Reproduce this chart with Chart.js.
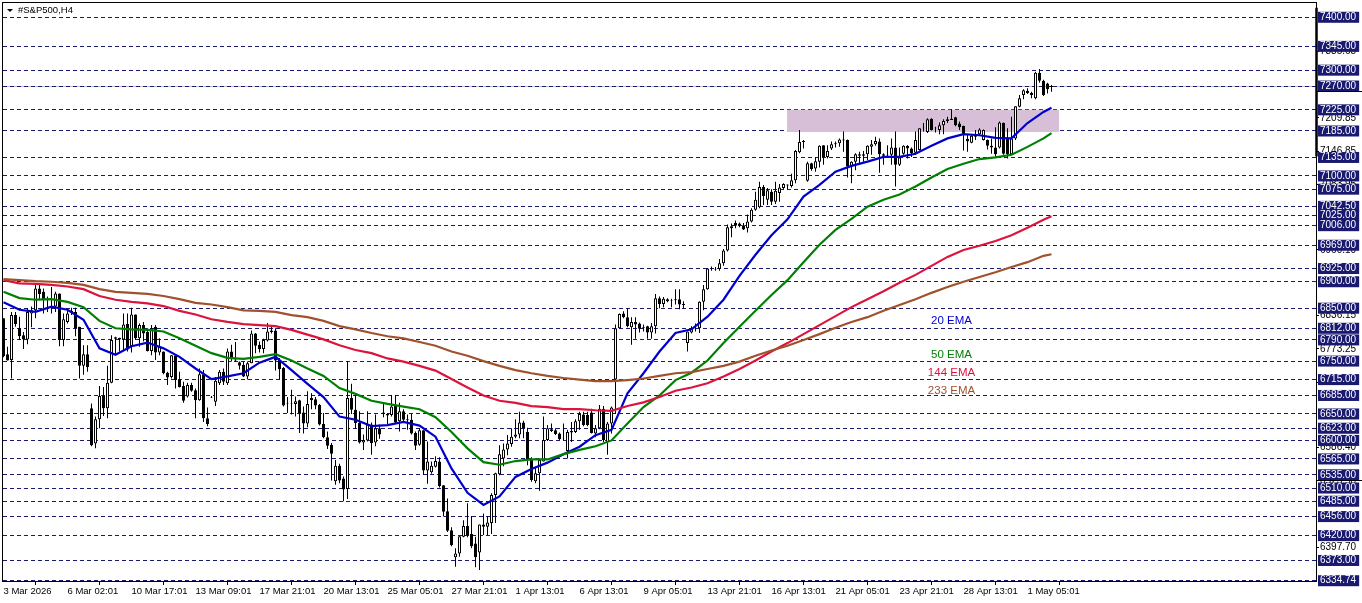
<!DOCTYPE html>
<html>
<head>
<meta charset="utf-8">
<style>html,body{margin:0;padding:0;background:#fff}canvas{display:block}</style>
<script src="https://cdn.jsdelivr.net/npm/chart.js@4/dist/chart.umd.min.js"></script>
</head>
<body>
<canvas id="c" width="1362" height="603"></canvas>
<script>
const opens=[6831,6763,6752,6837,6812,6799,6791,6840,6846,6887,
6881,6868,6854,6853,6878,6790,6824,6843,6843,6815,
6741,6763,6661,6594,6640,6684,6661,6709,6792,6794,
6791,6820,6778,6838,6793,6818,6805,6769,6815,6766,
6768,6728,6720,6761,6715,6703,6683,6705,6695,6676,
6725,6642,6682,6673,6708,6730,6708,6768,6753,6748,
6743,6721,6746,6802,6781,6773,6789,6805,6808,6752,
6737,6671,6670,6669,6676,6653,6632,6680,6678,6667,
6631,6606,6592,6523,6552,6528,6508,6680,6658,6633,
6596,6600,6630,6596,6623,6653,6650,6648,6666,6636,
6655,6640,6639,6614,6592,6619,6543,6540,6550,6560,
6515,6466,6430,6379,6386,6418,6438,6423,6405,6388,
6441,6437,6444,6497,6536,6566,6583,6593,6607,6611,
6634,6616,6564,6523,6538,6560,6601,6621,6619,6613,
6603,6580,6618,6616,6636,6649,6648,6653,6613,6623,
6660,6597,6632,6715,6812,6840,6833,6814,6824,6821,
6814,6816,6804,6816,6869,6858,6867,6865,6867,6867,
6858,6784,6804,6811,6812,6862,6886,6925,6924,6924,
6935,6959,7005,7011,7010,7007,7001,7014,7036,7041,
7079,7055,7070,7051,7068,7077,7082,7081,7092,7145,
7164,7091,7124,7114,7127,7158,7136,7152,7160,7162,
7169,7168,7118,7127,7138,7138,7141,7155,7160,7165,
7141,7140,7140,7154,7121,7142,7157,7152,7144,7149,
7190,7183,7208,7191,7187,7196,7207,7208,7211,7199,
7195,7170,7163,7179,7179,7168,7168,7157,7154,7154,
7200,7171,7141,7171,7231,7253,7261,7257,7247,7295,
7280,7275,7270];
const highs=[6831,6777,6843,6843,6834,6805,6850,6853,6894,6894,
6887,6872,6890,6881,6878,6840,6845,6851,6851,6815,
6780,6780,6670,6645,6703,6701,6741,6799,6796,6794,
6840,6840,6851,6838,6821,6824,6812,6818,6818,6793,
6768,6730,6761,6761,6730,6711,6709,6709,6698,6736,
6733,6662,6684,6720,6733,6736,6774,6781,6786,6749,
6749,6749,6808,6803,6787,6792,6822,6815,6812,6756,
6739,6682,6696,6683,6677,6664,6693,6689,6682,6669,
6652,6617,6595,6563,6556,6532,6749,6707,6686,6655,
6611,6655,6634,6649,6630,6671,6652,6686,6686,6671,
6659,6649,6650,6617,6623,6619,6598,6560,6570,6568,
6515,6490,6436,6396,6419,6449,6481,6457,6418,6441,
6462,6456,6500,6539,6591,6594,6610,6623,6640,6654,
6637,6624,6568,6550,6566,6645,6629,6632,6623,6615,
6632,6620,6635,6640,6654,6654,6654,6660,6629,6667,
6665,6635,6664,6819,6840,6844,6850,6833,6833,6823,
6819,6817,6822,6877,6872,6871,6869,6868,6886,6886,
6863,6806,6816,6821,6863,6894,6926,6929,6928,6943,
6962,7008,7010,7016,7012,7011,7027,7039,7070,7089,
7083,7077,7075,7089,7085,7086,7084,7104,7149,7187,
7168,7127,7125,7136,7158,7158,7158,7165,7165,7171,
7184,7169,7128,7143,7146,7147,7158,7168,7174,7171,
7143,7158,7171,7184,7154,7158,7158,7154,7184,7190,
7200,7209,7209,7193,7201,7207,7212,7226,7212,7203,
7195,7179,7179,7187,7190,7188,7169,7171,7192,7203,
7201,7190,7212,7232,7253,7264,7266,7259,7297,7302,
7282,7276,7272];
const lows=[6757,6751,6717,6815,6790,6773,6782,6814,6831,6865,
6840,6843,6840,6843,6778,6778,6821,6837,6797,6717,
6724,6730,6589,6585,6623,6646,6642,6708,6761,6768,
6771,6768,6766,6790,6777,6787,6768,6761,6752,6761,
6725,6705,6717,6698,6700,6671,6681,6692,6642,6675,
6635,6627,6680,6665,6705,6705,6705,6749,6749,6734,
6720,6715,6746,6765,6766,6765,6787,6802,6732,6716,
6664,6652,6649,6645,6614,6613,6625,6659,6659,6628,
6604,6584,6524,6516,6519,6485,6489,6650,6623,6594,
6582,6598,6573,6589,6603,6644,6630,6645,6632,6617,
6633,6620,6611,6582,6590,6535,6518,6537,6549,6511,
6456,6427,6400,6361,6380,6417,6417,6396,6360,6355,
6421,6421,6423,6444,6534,6551,6572,6588,6604,6604,
6604,6553,6522,6519,6505,6560,6599,6616,6610,6601,
6601,6566,6597,6614,6620,6627,6627,6613,6606,6621,
6597,6573,6613,6650,6811,6831,6814,6781,6792,6804,
6806,6792,6792,6802,6850,6852,6861,6852,6857,6848,
6850,6768,6802,6806,6803,6846,6885,6921,6921,6921,
6930,6957,6984,7001,7003,6998,6993,7012,7034,7039,
7045,7045,7045,7047,7051,7075,7075,7078,7086,7143,
7152,7089,7110,7108,7116,7121,7133,7149,7154,7155,
7146,7097,7086,7111,7124,7127,7130,7140,7157,7106,
7121,7136,7121,7080,7119,7140,7133,7136,7140,7148,
7184,7181,7186,7182,7179,7179,7200,7206,7194,7187,
7148,7146,7162,7168,7177,7167,7150,7142,7135,7152,
7140,7133,7140,7168,7230,7245,7255,7247,7245,7276,
7251,7256,7259];
const closes=[6759,6751,6837,6820,6797,6791,6843,6846,6887,6877,
6865,6865,6851,6878,6790,6829,6840,6845,6812,6741,
6763,6739,6591,6640,6684,6661,6709,6790,6795,6791,
6819,6772,6838,6793,6818,6802,6769,6812,6766,6778,
6727,6719,6761,6714,6701,6675,6705,6694,6676,6725,
6642,6631,6681,6713,6730,6711,6768,6756,6751,6741,
6721,6746,6802,6779,6773,6790,6806,6808,6751,6735,
6666,6670,6669,6674,6652,6632,6669,6676,6666,6630,
6606,6590,6575,6552,6524,6507,6680,6658,6633,6596,
6601,6630,6595,6623,6611,6650,6647,6664,6634,6655,
6639,6638,6613,6590,6619,6543,6560,6552,6561,6514,
6465,6429,6402,6386,6419,6438,6421,6400,6379,6441,
6437,6445,6497,6538,6574,6583,6594,6607,6611,6634,
6623,6563,6525,6538,6563,6601,6623,6618,6612,6602,
6602,6616,6615,6636,6650,6629,6629,6614,6623,6660,
6601,6632,6662,6812,6839,6833,6816,6824,6819,6811,
6812,6804,6816,6869,6858,6868,6863,6864,6865,6857,
6856,6806,6812,6810,6862,6886,6925,6924,6923,6935,
6959,7003,7001,7006,7007,6999,7014,7036,7055,7079,
7062,7073,7051,7072,7078,7085,7084,7092,7147,7164,
7166,7124,7113,7128,7157,7136,7147,7160,7162,7169,
7167,7118,7127,7141,7141,7141,7157,7160,7166,7141,
7138,7139,7154,7121,7135,7157,7152,7143,7168,7190,
7191,7207,7187,7190,7196,7204,7204,7206,7196,7192,
7178,7165,7176,7174,7188,7187,7157,7154,7141,7201,
7142,7141,7171,7232,7247,7262,7257,7253,7295,7280,
7253,7264,7268];

const emaBars=[0,4,8,12,16,20,24,28,32,36,40,44,48,52,56,60,64,68,72,76,80,84,88,92,96,100,104,108,112,116,120,124,128,132,136,140,144,148,152,156,160,164,168,172,176,180,184,188,192,196,200,204,208,212,216,220,224,228,232,236,240,244,248,252,256,260,262];
const ema20=[6861,6847,6843,6853,6847,6828,6774,6762,6778,6785,6774,6758,6736,6716,6721,
6727,6747,6758,6733,6707,6682,6645,6639,6627,6629,6635,6628,6607,6547,
6501,6478,6494,6531,6546,6558,6574,6588,6610,6620,
6689,6727,6768,6803,6810,6834,6866,6911,6951,6988,
7018,7061,7083,7108,7119,7127,7136,7136,7142,
7157,7171,7179,7177,7172,7171,7200,7221,7229];
const ema50=[6881,6869,6866,6867,6862,6852,6826,6812,6810,6809,6806,6793,6779,6765,6756,
6754,6758,6763,6751,6736,6722,6699,6688,6675,6669,6664,6659,6644,6616,
6585,6559,6554,6561,6564,6564,6574,6582,6589,6600,
6632,6663,6685,6714,6728,6751,6784,6815,6845,6875,
6903,6937,6970,6998,7019,7042,7055,7065,7080,
7097,7113,7123,7132,7135,7140,7155,7171,7181];
const ema144=[6903,6897,6896,6894,6891,6886,6873,6866,6862,6859,6854,6845,6838,6829,6824,
6820,6818,6816,6809,6800,6791,6780,6771,6765,6755,6749,6741,6732,6716,
6700,6685,6675,6671,6665,6663,6659,6659,6657,6656,
6665,6672,6682,6694,6700,6708,6721,6735,6751,6768,
6784,6801,6818,6835,6852,6867,6882,6898,6913,
6930,6947,6960,6968,6977,6988,7002,7017,7024];
const ema233=[6905,6903,6901,6900,6898,6894,6886,6881,6879,6877,6873,6867,6860,6857,6852,
6846,6845,6843,6837,6833,6826,6816,6810,6803,6797,6793,6786,6779,6768,
6760,6750,6741,6733,6727,6722,6718,6715,6712,6712,
6714,6717,6722,6727,6729,6735,6741,6749,6760,6770,
6779,6790,6801,6813,6824,6833,6845,6856,6867,
6879,6890,6900,6909,6918,6928,6937,6949,6952];

const levelTicks=[7400,7345,7300,7270,7225,7185,7135,7100,7075,7042.5,7025,7006,6969,6925,6900,6850,6812,6790,6750,6715,6685,6650,6623,6600,6565,6535,6510,6485,6456,6420,6373,6334.74];
const plainTicks=[7335.65,7209.85,7146.85,7083.95,6960.10,6836.15,6773.25,6710.35,6586.40,6523.50,6397.70];
const bidPrice=7270;
const zoneBars=[195.9,263.9];
const zoneHigh=7225;
const zoneLow=7183;
const xTickBars=[0,16,32,48,64,80,96,112,128,144,160,176,192,208,224,240,256];
const xTickLabels=["3 Mar 2026","6 Mar 02:01","10 Mar 17:01","13 Mar 09:01","17 Mar 21:01","20 Mar 13:01","25 Mar 05:01","27 Mar 21:01","1 Apr 13:01","6 Apr 13:01","9 Apr 05:01","13 Apr 21:01","16 Apr 13:01","21 Apr 05:01","23 Apr 21:01","28 Apr 13:01","1 May 05:01"];
const emaNames=["20 EMA","50 EMA","144 EMA","233 EMA"];
const emaColors=["#0000CD","#008000","#DC143C","#A0522D"];
const emaLabelValues=[6826,6761,6727,6693];
const emaLabelBar=237;
const chartTitle="#S&P500,H4";

const FONT='"Liberation Sans", Arial, sans-serif';
const barIdx=opens.map((_,i)=>i);
const emaData=a=>a.map((v,i)=>({x:emaBars[i],y:v}));
const emaSet=(a,k)=>({type:'line',label:emaNames[k],data:emaData(a),borderColor:emaColors[k],borderWidth:2.2,pointRadius:0,tension:0,fill:false,order:4-k});

const overlay={id:'overlay',
afterDraw(chart){
  const c=chart.ctx,a=chart.chartArea,x=chart.scales.x,y=chart.scales.y;
  c.save();
  c.strokeStyle='#000';c.lineWidth=1;
  c.strokeRect(a.left-.5,a.top-.5,a.right-a.left+1,a.bottom-a.top+1);
  c.lineWidth=2.5;c.beginPath();c.moveTo(a.right+.5,y.getPixelForValue(7418));c.lineTo(a.right+.5,y.getPixelForValue(7137));c.stroke();
  c.lineWidth=1;
  [7261,6525].forEach(v=>{const p=Math.round(y.getPixelForValue(v))+.5;c.beginPath();c.moveTo(a.right,p);c.lineTo(chart.width,p);c.stroke();});
  c.fillStyle='#000';c.textBaseline='middle';c.textAlign='left';c.font='9.5px '+FONT;
  c.beginPath();c.moveTo(7,9);c.lineTo(13,9);c.lineTo(10,12);c.closePath();c.fill();
  c.fillText(chartTitle,18,10.5);
  c.textAlign='center';c.font='11.5px '+FONT;
  emaNames.forEach((n,k)=>{c.fillStyle=emaColors[k];c.fillText(n,x.getPixelForValue(emaLabelBar),y.getPixelForValue(emaLabelValues[k]));});
  c.restore();
}};

new Chart(document.getElementById('c'),{
  data:{datasets:[
    {type:'line',label:'zone',data:zoneBars.map(b=>({x:b,y:zoneHigh})),borderWidth:0,pointRadius:0,backgroundColor:'#D8BFD8',fill:{value:zoneLow},order:100},
    {type:'bar',label:'wick',data:barIdx.map(i=>({x:i,y:[lows[i],highs[i]]})),barThickness:1,grouped:false,backgroundColor:'#000',borderWidth:0,inflateAmount:0,order:50},
    {type:'bar',label:'body',data:barIdx.map(i=>({x:i,y:[opens[i],closes[i]]})),barThickness:3,grouped:false,
      backgroundColor:c=>closes[c.dataIndex]>=opens[c.dataIndex]?'#fff':'#000',borderColor:'#000',borderWidth:1,borderSkipped:false,inflateAmount:0,order:40},
    emaSet(ema233,3),emaSet(ema144,2),emaSet(ema50,1),emaSet(ema20,0)
  ]},
  options:{
    responsive:false,animation:false,devicePixelRatio:1,
    layout:{autoPadding:false,padding:{left:3,top:3,right:0,bottom:0}},
    plugins:{legend:{display:false},tooltip:{enabled:false},title:{display:false}},
    events:[],
    scales:{
      x:{type:'linear',position:'bottom',min:-0.125,max:328.125,offset:false,
        afterBuildTicks(s){s.ticks=xTickBars.map(v=>({value:v}));},
        afterFit(s){s.height=22;s.paddingLeft=0;s.paddingRight=0;},
        grid:{drawOnChartArea:false,drawTicks:true,tickLength:4,tickColor:'#000'},
        border:{color:'#000',width:1},
        ticks:{autoSkip:false,maxRotation:0,minRotation:0,align:'start',padding:1,color:'#000',font:{family:FONT,size:9.5},
          callback:(v,i)=>xTickLabels[i]}
      },
      y:{type:'linear',position:'right',min:6334.2,max:7427,
        afterBuildTicks(s){
          s.ticks=[...plainTicks.map(v=>({value:v,kind:'plain'})),{value:bidPrice,kind:'bid'},...levelTicks.map(v=>({value:v,kind:'level'}))];
        },
        afterFit(s){s.width=46;s.paddingTop=0;s.paddingBottom=0;},
        grid:{
          color:c=>{const k=c.tick&&c.tick.kind;return k==='level'?'#191970':k==='bid'?'#C0C0C0':'rgba(0,0,0,0)';},
          tickColor:c=>c.tick&&c.tick.kind==='plain'?'#000':'rgba(0,0,0,0)',
          tickLength:3,lineWidth:1
        },
        border:{color:'#000',width:1,dash:c=>c.tick&&c.tick.kind==='level'?[4,3]:[]},
        ticks:{autoSkip:false,padding:1,font:{family:FONT,size:10,lineHeight:1.1},
          color:c=>c.tick&&c.tick.kind==='level'?'#fff':'#000',
          showLabelBackdrop:c=>!!(c.tick&&c.tick.kind==='level'),
          backdropColor:'#191970',backdropPadding:{left:2,right:3,top:0,bottom:0},
          callback:(v,i,t)=>t[i].kind==='bid'?'':v.toFixed(2)}
      }
    }
  },
  plugins:[overlay]
});
</script>
</body>
</html>
